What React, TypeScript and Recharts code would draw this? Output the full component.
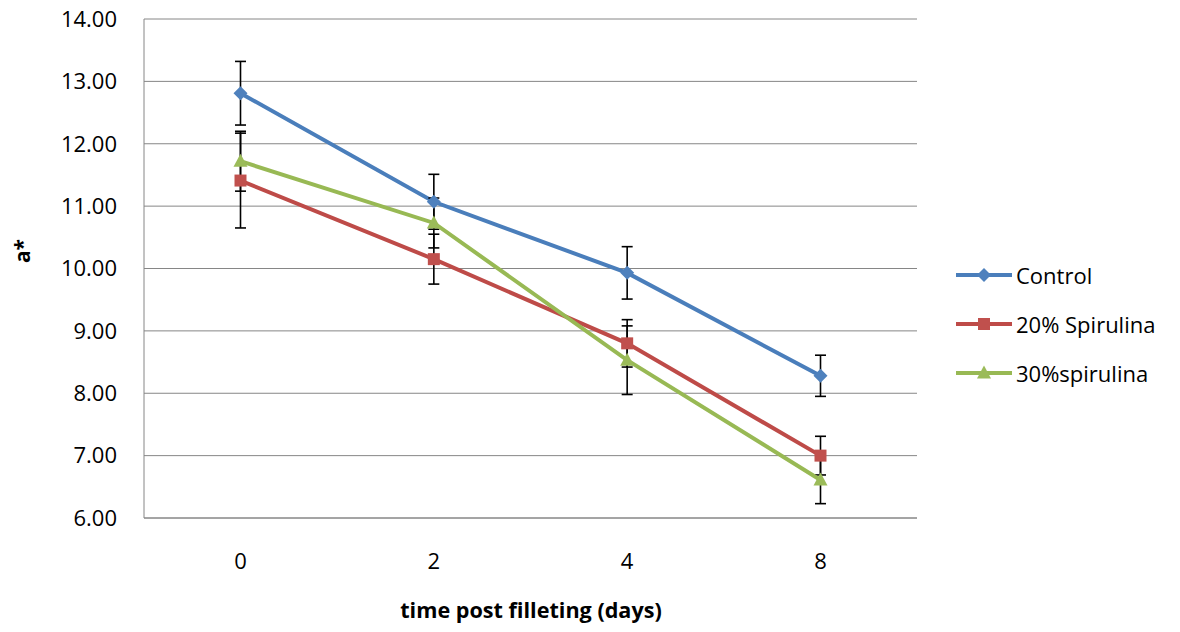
import { LineChart, Line, XAxis, YAxis, CartesianGrid, Legend, ErrorBar } from "recharts";

// values
const days = ["0", "2", "4", "8"];
const control = [12.81, 11.07, 9.93, 8.28];
const controlErr = [0.51, 0.44, 0.42, 0.33];
const spirulina20 = [11.41, 10.15, 8.8, 7.0];
const spirulina20Err = [0.76, 0.4, 0.38, 0.31];
const spirulina30 = [11.72, 10.73, 8.53, 6.61];
const spirulina30Err = [0.48, 0.4, 0.55, 0.38];
const yTicks = [6, 7, 8, 9, 10, 11, 12, 13, 14];

const data = days.map((day, i) => ({
  day,
  control: control[i],
  controlErr: controlErr[i],
  s20: spirulina20[i],
  s20Err: spirulina20Err[i],
  s30: spirulina30[i],
  s30Err: spirulina30Err[i],
}));

const FONT = "'Open Sans', sans-serif";
const GRID = "#868686";

type Shape = "diamond" | "square" | "triangle";

const markerPath = (shape: Shape, cx: number, cy: number) => {
  if (shape === "diamond") return `M${cx},${cy - 7}L${cx + 7},${cy}L${cx},${cy + 7}L${cx - 7},${cy}Z`;
  if (shape === "square") return `M${cx - 6},${cy - 6}h12v12h-12Z`;
  return `M${cx},${cy - 7.5}L${cx + 7},${cy + 5.5}L${cx - 7},${cy + 5.5}Z`;
};

const makeDot = (shape: Shape, fill: string) => (props: any) => {
  const { cx, cy, index } = props;
  if (cx == null || cy == null) return <g key={index} />;
  return <path key={index} d={markerPath(shape, cx, cy)} fill={fill} />;
};

const series = [
  { key: "control", err: "controlErr", name: "Control", line: "#4A7EBB", marker: "#4F81BD", shape: "diamond" as Shape },
  { key: "s20", err: "s20Err", name: "20% Spirulina", line: "#BE4B48", marker: "#C0504D", shape: "square" as Shape },
  { key: "s30", err: "s30Err", name: "30%spirulina", line: "#98B954", marker: "#9BBB59", shape: "triangle" as Shape },
];

const LegendBox = () => (
  <div style={{ fontFamily: FONT, fontSize: 22, color: "#000" }}>
    {series.map((s) => (
      <div key={s.key} style={{ display: "flex", alignItems: "center", height: 49 }}>
        <svg width={56} height={20} style={{ marginRight: 4 }}>
          <line x1={0} y1={10} x2={56} y2={10} stroke={s.line} strokeWidth={4} strokeLinecap="round" />
          <path d={markerPath(s.shape, 28, 10)} fill={s.marker} />
        </svg>
        <span>{s.name}</span>
      </div>
    ))}
  </div>
);

const App = () => {
  return (
    <div style={{ position: "absolute", left: 0, top: 0, background: "#fff" }}>
      <LineChart width={1180} height={632} data={data} margin={{ top: 19, right: 43, left: 64, bottom: 84 }}>
        <CartesianGrid vertical={false} stroke={GRID} strokeWidth={1} />
        <XAxis
          dataKey="day"
          height={30}
          padding={{ left: 96.5, right: 96.5 }}
          axisLine={{ stroke: GRID }}
          tickLine={false}
          tickSize={0}
          tickMargin={35}
          tick={{ fontSize: 22, fill: "#000", fontFamily: FONT }}
          label={{
            content: () => (
              <text x={531} y={618} textAnchor="middle" fontFamily={FONT} fontSize={21.6} fontWeight="bold" fill="#000">
                time post filleting (days)
              </text>
            ),
          }}
        />
        <YAxis
          width={80}
          domain={[6, 14]}
          ticks={yTicks}
          interval={0}
          tickFormatter={(v: number) => v.toFixed(2)}
          axisLine={{ stroke: GRID }}
          tickLine={false}
          tickSize={0}
          tickMargin={27}
          tick={{ fontSize: 22, fill: "#000", fontFamily: FONT }}
          label={{
            content: () => (
              <text
                x={30}
                y={251}
                transform="rotate(-90 30 251)"
                textAnchor="middle"
                fontFamily={FONT}
                fontSize={21}
                fontWeight="bold"
                fill="#000"
              >
                a*
              </text>
            ),
          }}
        />
        <Legend
          layout="vertical"
          align="right"
          verticalAlign="top"
          content={<LegendBox />}
          wrapperStyle={{ left: 956, top: 250, width: 220 }}
        />
        {series.map((s) => (
          <Line
            key={s.key}
            type="linear"
            dataKey={s.key}
            name={s.name}
            stroke={s.line}
            strokeWidth={4}
            dot={makeDot(s.shape, s.marker)}
            activeDot={false}
            isAnimationActive={false}
          >
            <ErrorBar dataKey={s.err} width={5.5} stroke="#000" strokeWidth={1.6} direction="y" />
          </Line>
        ))}
      </LineChart>
    </div>
  );
};

export default App;
